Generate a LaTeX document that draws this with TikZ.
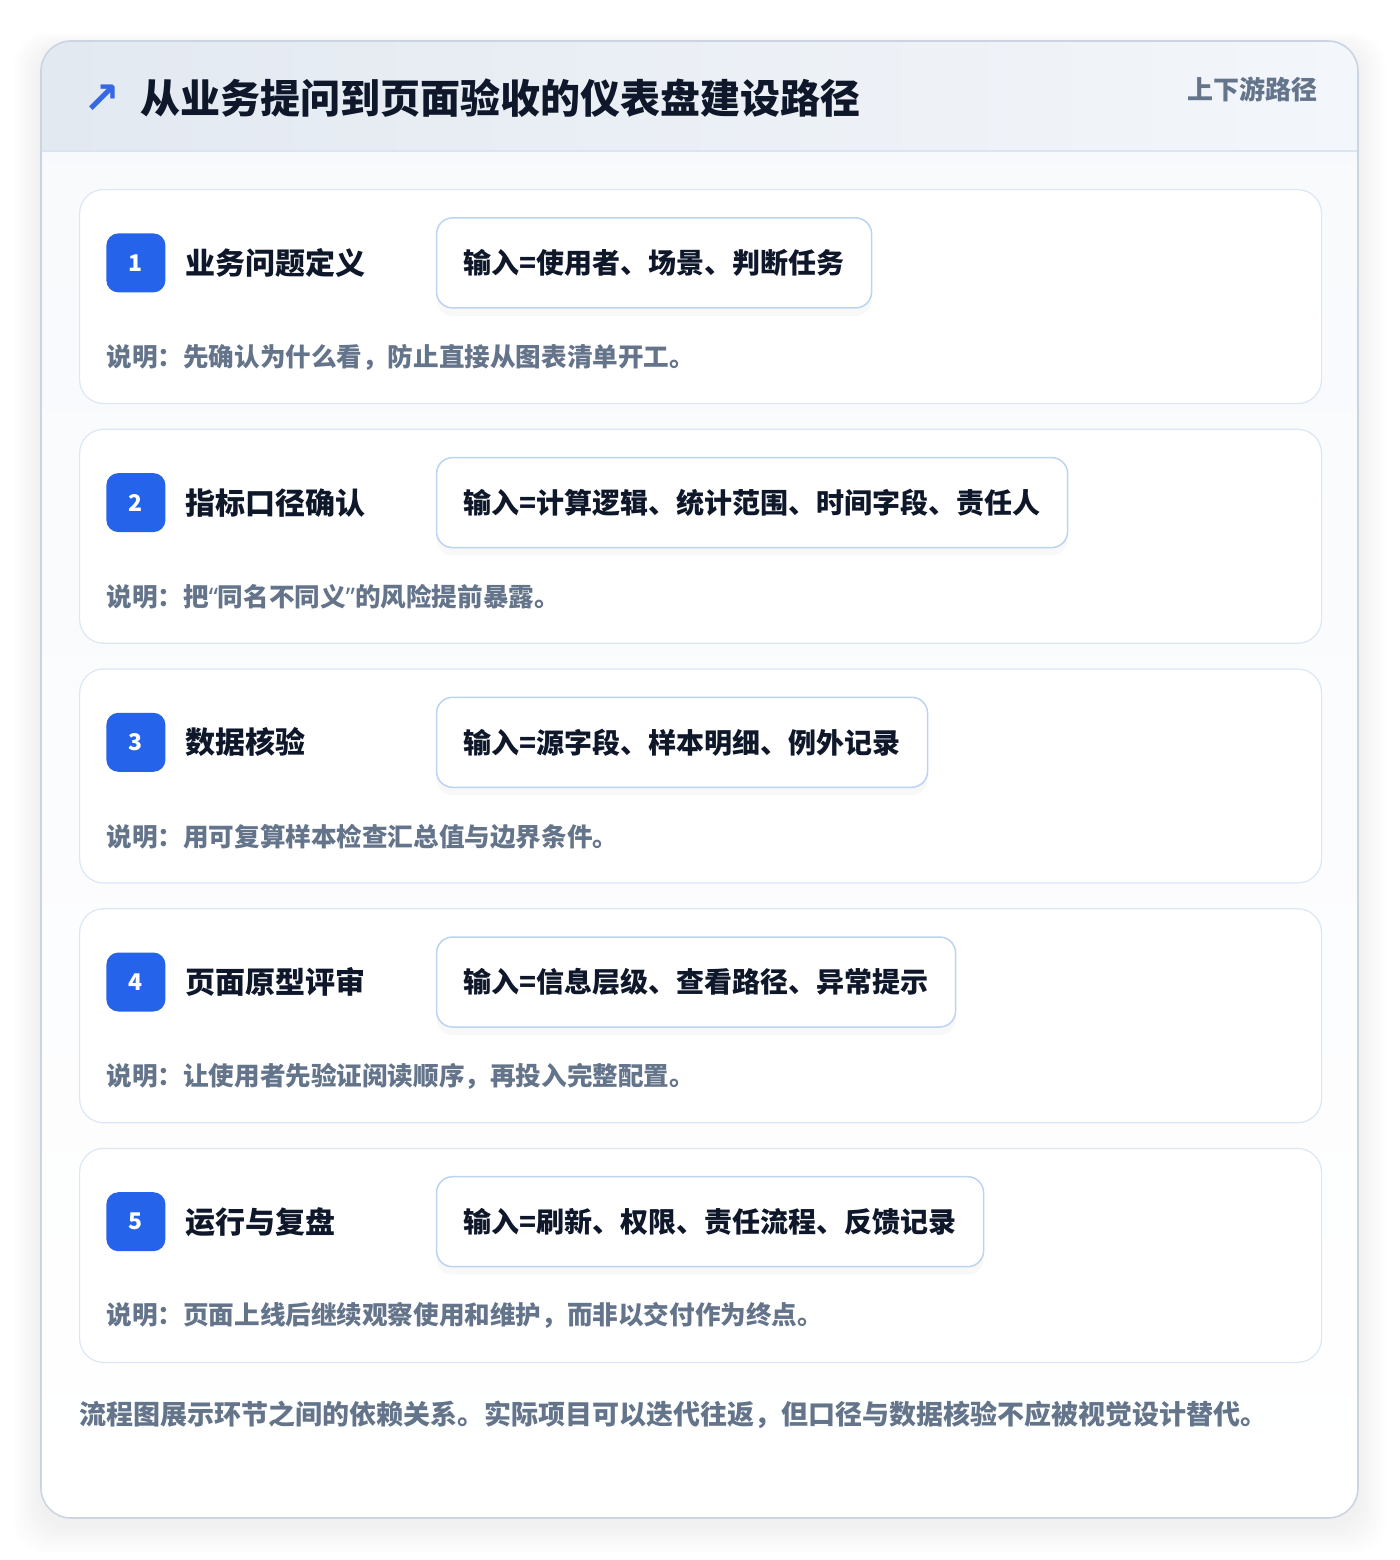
\documentclass[tikz,border=0pt]{standalone}
\usepackage{fontspec}
\setmainfont{Noto Sans CJK SC}
\newfontfamily\symfont{DejaVu Sans}
\newfontfamily\quotefont{Noto Sans}
\usepackage{xcolor}
\usetikzlibrary{positioning, shadows}

\definecolor{ink}{HTML}{0F172A}
\definecolor{muted}{HTML}{64748B}
\definecolor{badgeblue}{HTML}{2563EB}
\definecolor{iconblue}{HTML}{3568E2}
\definecolor{cardline}{HTML}{DCE7F6}
\definecolor{inputline}{HTML}{BCD3F1}
\definecolor{panelline}{HTML}{CBD5E1}
\definecolor{headline}{HTML}{D9E5F4}
\definecolor{hdrleft}{HTML}{E3E9F1}
\definecolor{hdrright}{HTML}{F3F6FA}
\definecolor{bodytop}{HTML}{F7F9FC}

\newcommand{\openq}{{\quotefont “}}
\newcommand{\closeq}{{\quotefont ”}}

\begin{document}
\begin{tikzpicture}[
			x=0.5pt, y=-0.5pt,
			node distance=12.25pt,
			stepcard/.style={draw=cardline, fill=white, line width=0.6pt, rounded corners=12pt, minimum width=621pt, minimum height=107pt, inner sep=0},
			badge/.style={fill=badgeblue, rounded corners=6pt, minimum size=29.5pt, inner sep=0, text=white, font=\bfseries\fontsize{11.5}{13}\selectfont},
			steptitle/.style={inner sep=0, text=ink, font=\bfseries\fontsize{15}{18}\selectfont},
			inputbox/.style={draw=inputline, fill=white, line width=0.75pt, rounded corners=8pt, minimum height=45pt, inner xsep=13.5pt, inner ysep=0, text=ink, font=\bfseries\fontsize{14}{17}\selectfont, drop shadow={opacity=0.05, shadow xshift=0pt, shadow yshift=-4pt}},
			note/.style={anchor=west, inner sep=0, text=muted, font=\bfseries\fontsize{12.8}{15}\selectfont}
			]
			\useasboundingbox (0,0) rectangle (1400,1560);
			
			% Panel with soft shadow
			\foreach \k in {1,...,14}
				\fill[black, opacity=0.005, rounded corners=16pt] (41-2*\k,47-\k) rectangle (1358+2*\k,1526+2*\k);
			\shade[top color=bodytop, bottom color=white, rounded corners=15pt] (41,41) rectangle (1358,1518);
			\begin{scope}
				\clip[rounded corners=15pt] (41,41) rectangle (1358,1518);
				\shade[left color=hdrleft, right color=hdrright] (41,41) rectangle (1358,151);
			\end{scope}
			\draw[headline, line width=0.75pt] (41,151) -- (1358,151);
			\draw[panelline, line width=0.8pt, rounded corners=15pt] (41,41) rectangle (1358,1518);
			
			% Header
			\node (icon) [inner sep=0, text=iconblue, font=\symfont\bfseries\fontsize{22}{22}\selectfont] at (102,99) {↗};
			\node (title) [anchor=west, inner sep=0, text=ink, font=\bfseries\fontsize{20}{24}\selectfont] at (140,98) {从业务提问到页面验收的仪表盘建设路径};
			\node (tag) [anchor=east, inner sep=0, text=muted, font=\bfseries\fontsize{13}{16}\selectfont] at (1318,89) {上下游路径};
			
			% Step cards
			\node (card1) [stepcard, anchor=north west] at (79,189) {};
			\node (card2) [stepcard, below=of card1] {};
			\node (card3) [stepcard, below=of card2] {};
			\node (card4) [stepcard, below=of card3] {};
			\node (card5) [stepcard, below=of card4] {};
			
			% Step 1
			\node (badge1) [badge, below right=22pt and 13.5pt of card1.north west] {1};
			\node (title1) [steptitle, right=9.5pt of badge1] {业务问题定义};
			\node (input1) [inputbox, right=135pt of badge1] {输入=使用者、场景、判断任务};
			\node (note1) [note] at ([xshift=13.5pt, yshift=-84pt]card1.north west) {说明：先确认为什么看，防止直接从图表清单开工。};
			
			% Step 2
			\node (badge2) [badge, below right=22pt and 13.5pt of card2.north west] {2};
			\node (title2) [steptitle, right=9.5pt of badge2] {指标口径确认};
			\node (input2) [inputbox, right=135pt of badge2] {输入=计算逻辑、统计范围、时间字段、责任人};
			\node (note2) [note] at ([xshift=13.5pt, yshift=-84pt]card2.north west) {说明：把\openq 同名不同义\closeq 的风险提前暴露。};
			
			% Step 3
			\node (badge3) [badge, below right=22pt and 13.5pt of card3.north west] {3};
			\node (title3) [steptitle, right=9.5pt of badge3] {数据核验};
			\node (input3) [inputbox, right=135pt of badge3] {输入=源字段、样本明细、例外记录};
			\node (note3) [note] at ([xshift=13.5pt, yshift=-84pt]card3.north west) {说明：用可复算样本检查汇总值与边界条件。};
			
			% Step 4
			\node (badge4) [badge, below right=22pt and 13.5pt of card4.north west] {4};
			\node (title4) [steptitle, right=9.5pt of badge4] {页面原型评审};
			\node (input4) [inputbox, right=135pt of badge4] {输入=信息层级、查看路径、异常提示};
			\node (note4) [note] at ([xshift=13.5pt, yshift=-84pt]card4.north west) {说明：让使用者先验证阅读顺序，再投入完整配置。};
			
			% Step 5
			\node (badge5) [badge, below right=22pt and 13.5pt of card5.north west] {5};
			\node (title5) [steptitle, right=9.5pt of badge5] {运行与复盘};
			\node (input5) [inputbox, right=135pt of badge5] {输入=刷新、权限、责任流程、反馈记录};
			\node (note5) [note] at ([xshift=13.5pt, yshift=-84pt]card5.north west) {说明：页面上线后继续观察使用和维护，而非以交付作为终点。};
			
			% Footer
			\node (footer) [anchor=west, inner sep=0, text=muted, font=\bfseries\fontsize{13.5}{16}\selectfont] at ([yshift=-26pt]card5.south west) {流程图展示环节之间的依赖关系。实际项目可以迭代往返，但口径与数据核验不应被视觉设计替代。};
			
		\end{tikzpicture}
\end{document}
